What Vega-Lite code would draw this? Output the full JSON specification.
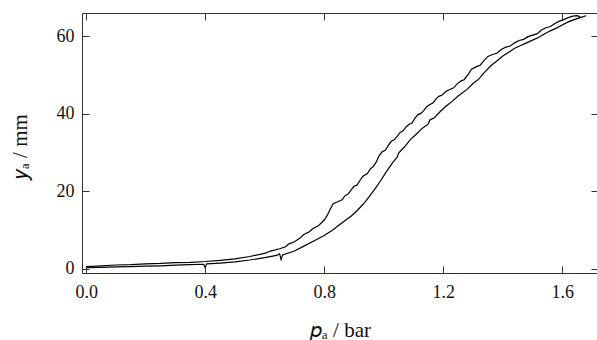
{
  "$schema": "https://vega.github.io/schema/vega-lite/v6.json",
  "width": 516,
  "height": 260,
  "autosize": {"type": "none"},
  "padding": {"left": 82, "top": 13, "right": 0, "bottom": 67},
  "background": "white",
  "config": {
    "view": {"stroke": "#333", "strokeWidth": 1},
    "font": "Liberation Serif"
  },
  "data": {"values": [
    {"branch": "upper", "p": 0.00, "y": 0.6},
    {"branch": "upper", "p": 0.05, "y": 0.8},
    {"branch": "upper", "p": 0.10, "y": 1.0},
    {"branch": "upper", "p": 0.15, "y": 1.1},
    {"branch": "upper", "p": 0.20, "y": 1.3},
    {"branch": "upper", "p": 0.25, "y": 1.4},
    {"branch": "upper", "p": 0.30, "y": 1.6},
    {"branch": "upper", "p": 0.35, "y": 1.7},
    {"branch": "upper", "p": 0.40, "y": 1.9},
    {"branch": "upper", "p": 0.45, "y": 2.2},
    {"branch": "upper", "p": 0.50, "y": 2.6},
    {"branch": "upper", "p": 0.55, "y": 3.2},
    {"branch": "upper", "p": 0.60, "y": 4.0},
    {"branch": "upper", "p": 0.62, "y": 4.6},
    {"branch": "upper", "p": 0.65, "y": 5.2},
    {"branch": "upper", "p": 0.67, "y": 5.7},
    {"branch": "upper", "p": 0.68, "y": 6.4},
    {"branch": "upper", "p": 0.70, "y": 7.0},
    {"branch": "upper", "p": 0.72, "y": 8.0},
    {"branch": "upper", "p": 0.73, "y": 8.8},
    {"branch": "upper", "p": 0.75, "y": 9.6},
    {"branch": "upper", "p": 0.76, "y": 10.3},
    {"branch": "upper", "p": 0.78, "y": 11.1},
    {"branch": "upper", "p": 0.80, "y": 12.6},
    {"branch": "upper", "p": 0.81, "y": 13.8},
    {"branch": "upper", "p": 0.82, "y": 15.4},
    {"branch": "upper", "p": 0.83, "y": 16.8},
    {"branch": "upper", "p": 0.845, "y": 17.3},
    {"branch": "upper", "p": 0.86, "y": 17.8},
    {"branch": "upper", "p": 0.87, "y": 18.9},
    {"branch": "upper", "p": 0.88, "y": 19.3},
    {"branch": "upper", "p": 0.89, "y": 20.3},
    {"branch": "upper", "p": 0.90, "y": 21.3},
    {"branch": "upper", "p": 0.91, "y": 21.6},
    {"branch": "upper", "p": 0.92, "y": 22.8},
    {"branch": "upper", "p": 0.93, "y": 23.9},
    {"branch": "upper", "p": 0.945, "y": 24.6},
    {"branch": "upper", "p": 0.955, "y": 25.8},
    {"branch": "upper", "p": 0.965, "y": 26.4},
    {"branch": "upper", "p": 0.975, "y": 27.6},
    {"branch": "upper", "p": 0.985, "y": 29.3},
    {"branch": "upper", "p": 0.995, "y": 30.2},
    {"branch": "upper", "p": 1.005, "y": 30.6},
    {"branch": "upper", "p": 1.015, "y": 31.8},
    {"branch": "upper", "p": 1.025, "y": 32.9},
    {"branch": "upper", "p": 1.035, "y": 33.3},
    {"branch": "upper", "p": 1.045, "y": 34.2},
    {"branch": "upper", "p": 1.055, "y": 35.2},
    {"branch": "upper", "p": 1.065, "y": 35.6},
    {"branch": "upper", "p": 1.075, "y": 36.6},
    {"branch": "upper", "p": 1.085, "y": 37.3},
    {"branch": "upper", "p": 1.095, "y": 37.6},
    {"branch": "upper", "p": 1.105, "y": 38.9},
    {"branch": "upper", "p": 1.115, "y": 39.8},
    {"branch": "upper", "p": 1.125, "y": 40.1},
    {"branch": "upper", "p": 1.135, "y": 40.9},
    {"branch": "upper", "p": 1.145, "y": 41.9},
    {"branch": "upper", "p": 1.155, "y": 42.4},
    {"branch": "upper", "p": 1.165, "y": 42.8},
    {"branch": "upper", "p": 1.175, "y": 43.8},
    {"branch": "upper", "p": 1.185, "y": 44.5},
    {"branch": "upper", "p": 1.195, "y": 44.8},
    {"branch": "upper", "p": 1.21, "y": 45.8},
    {"branch": "upper", "p": 1.22, "y": 46.2},
    {"branch": "upper", "p": 1.235, "y": 46.7},
    {"branch": "upper", "p": 1.245, "y": 47.6},
    {"branch": "upper", "p": 1.26, "y": 48.5},
    {"branch": "upper", "p": 1.27, "y": 48.8},
    {"branch": "upper", "p": 1.285, "y": 50.3},
    {"branch": "upper", "p": 1.295, "y": 51.5},
    {"branch": "upper", "p": 1.31, "y": 52.1},
    {"branch": "upper", "p": 1.325, "y": 52.6},
    {"branch": "upper", "p": 1.335, "y": 53.6},
    {"branch": "upper", "p": 1.35, "y": 54.8},
    {"branch": "upper", "p": 1.365, "y": 55.3},
    {"branch": "upper", "p": 1.38, "y": 55.6},
    {"branch": "upper", "p": 1.395, "y": 56.6},
    {"branch": "upper", "p": 1.41, "y": 57.2},
    {"branch": "upper", "p": 1.425, "y": 57.5},
    {"branch": "upper", "p": 1.44, "y": 58.3},
    {"branch": "upper", "p": 1.455, "y": 58.9},
    {"branch": "upper", "p": 1.47, "y": 59.2},
    {"branch": "upper", "p": 1.485, "y": 59.9},
    {"branch": "upper", "p": 1.50, "y": 60.3},
    {"branch": "upper", "p": 1.515, "y": 60.6},
    {"branch": "upper", "p": 1.53, "y": 61.6},
    {"branch": "upper", "p": 1.545, "y": 62.2},
    {"branch": "upper", "p": 1.56, "y": 62.5},
    {"branch": "upper", "p": 1.575, "y": 63.3},
    {"branch": "upper", "p": 1.59, "y": 63.9},
    {"branch": "upper", "p": 1.605, "y": 64.3},
    {"branch": "upper", "p": 1.62, "y": 64.8},
    {"branch": "upper", "p": 1.635, "y": 65.2},
    {"branch": "upper", "p": 1.65, "y": 65.3},
    {"branch": "upper", "p": 1.66, "y": 65.0},
    {"branch": "lower", "p": 0.00, "y": 0.3},
    {"branch": "lower", "p": 0.05, "y": 0.4},
    {"branch": "lower", "p": 0.10, "y": 0.5},
    {"branch": "lower", "p": 0.15, "y": 0.6},
    {"branch": "lower", "p": 0.20, "y": 0.7},
    {"branch": "lower", "p": 0.25, "y": 0.8},
    {"branch": "lower", "p": 0.30, "y": 0.95},
    {"branch": "lower", "p": 0.35, "y": 1.1},
    {"branch": "lower", "p": 0.395, "y": 1.2},
    {"branch": "lower", "p": 0.40, "y": 0.3},
    {"branch": "lower", "p": 0.405, "y": 1.3},
    {"branch": "lower", "p": 0.45, "y": 1.5},
    {"branch": "lower", "p": 0.50, "y": 1.8},
    {"branch": "lower", "p": 0.55, "y": 2.3},
    {"branch": "lower", "p": 0.60, "y": 2.9},
    {"branch": "lower", "p": 0.64, "y": 3.5},
    {"branch": "lower", "p": 0.65, "y": 3.9},
    {"branch": "lower", "p": 0.655, "y": 2.4},
    {"branch": "lower", "p": 0.66, "y": 3.6},
    {"branch": "lower", "p": 0.70, "y": 4.6},
    {"branch": "lower", "p": 0.73, "y": 5.8},
    {"branch": "lower", "p": 0.76, "y": 7.0},
    {"branch": "lower", "p": 0.80, "y": 8.6},
    {"branch": "lower", "p": 0.83, "y": 10.1},
    {"branch": "lower", "p": 0.85, "y": 11.3},
    {"branch": "lower", "p": 0.87, "y": 12.5},
    {"branch": "lower", "p": 0.89, "y": 13.6},
    {"branch": "lower", "p": 0.91, "y": 15.0},
    {"branch": "lower", "p": 0.93, "y": 16.6},
    {"branch": "lower", "p": 0.95, "y": 18.5},
    {"branch": "lower", "p": 0.97, "y": 20.6},
    {"branch": "lower", "p": 0.99, "y": 22.8},
    {"branch": "lower", "p": 1.01, "y": 25.2},
    {"branch": "lower", "p": 1.03, "y": 27.4},
    {"branch": "lower", "p": 1.045, "y": 28.8},
    {"branch": "lower", "p": 1.05, "y": 29.9},
    {"branch": "lower", "p": 1.07, "y": 31.5},
    {"branch": "lower", "p": 1.09, "y": 33.4},
    {"branch": "lower", "p": 1.11, "y": 34.8},
    {"branch": "lower", "p": 1.13, "y": 36.3},
    {"branch": "lower", "p": 1.15, "y": 37.4},
    {"branch": "lower", "p": 1.155, "y": 38.4},
    {"branch": "lower", "p": 1.17, "y": 39.0},
    {"branch": "lower", "p": 1.19, "y": 40.6},
    {"branch": "lower", "p": 1.21, "y": 42.0},
    {"branch": "lower", "p": 1.23, "y": 43.2},
    {"branch": "lower", "p": 1.25, "y": 44.6},
    {"branch": "lower", "p": 1.28, "y": 46.3},
    {"branch": "lower", "p": 1.30, "y": 47.8},
    {"branch": "lower", "p": 1.32, "y": 49.0},
    {"branch": "lower", "p": 1.34, "y": 50.8},
    {"branch": "lower", "p": 1.36, "y": 52.4},
    {"branch": "lower", "p": 1.38, "y": 53.6},
    {"branch": "lower", "p": 1.40, "y": 54.9},
    {"branch": "lower", "p": 1.42, "y": 55.9},
    {"branch": "lower", "p": 1.44, "y": 56.9},
    {"branch": "lower", "p": 1.46, "y": 57.6},
    {"branch": "lower", "p": 1.48, "y": 58.3},
    {"branch": "lower", "p": 1.50, "y": 59.0},
    {"branch": "lower", "p": 1.52, "y": 59.7},
    {"branch": "lower", "p": 1.54, "y": 60.6},
    {"branch": "lower", "p": 1.56, "y": 61.4},
    {"branch": "lower", "p": 1.58, "y": 62.1},
    {"branch": "lower", "p": 1.60, "y": 62.9},
    {"branch": "lower", "p": 1.62, "y": 63.7},
    {"branch": "lower", "p": 1.64, "y": 64.3},
    {"branch": "lower", "p": 1.66, "y": 64.8},
    {"branch": "lower", "p": 1.68, "y": 65.3}
  ]},
  "layer": [
    {
      "mark": {"type": "line", "color": "#000", "strokeWidth": 1.2, "clip": true},
      "encoding": {
        "x": {"field": "p", "type": "quantitative",
              "scale": {"domain": [-0.014, 1.72], "nice": false, "zero": false},
              "axis": {"orient": "bottom", "values": [0, 0.4, 0.8, 1.2, 1.6], "format": ".1f", "offset": -7,
                       "domain": false, "grid": false, "ticks": true, "tickSize": 7, "tickColor": "#333", "tickWidth": 1,
                       "labelFont": "Liberation Serif", "labelFontSize": 18, "labelColor": "#111",
                       "labelPadding": 10, "title": "𝑝ₐ / bar",
                       "titleFont": "Liberation Serif", "titleFontSize": 21, "titleFontWeight": "normal", "titleColor": "#111",
                       "titleBaseline": "alphabetic", "titleY": 70, "titleAnchor": "middle"}},
        "y": {"field": "y", "type": "quantitative",
              "scale": {"domain": [-1.06, 66], "nice": false, "zero": false},
              "axis": {"orient": "left", "values": [0, 20, 40, 60], "offset": -7,
                       "domain": false, "grid": false, "ticks": true, "tickSize": 7, "tickColor": "#333", "tickWidth": 1,
                       "labelFont": "Liberation Serif", "labelFontSize": 18, "labelColor": "#111",
                       "labelPadding": 8, "title": "𝑦ₐ / mm",
                       "titleFont": "Liberation Serif", "titleFontSize": 21, "titleFontWeight": "normal", "titleColor": "#111",
                       "titleBaseline": "alphabetic", "titleX": -63, "titleY": 133, "titleAngle": -90, "titleAlign": "center"}},
        "detail": {"field": "branch", "type": "nominal"},
        "order": {"field": "p", "type": "quantitative"}
      }
    },
    {
      "mark": {"type": "line", "strokeOpacity": 0},
      "encoding": {
        "x": {"field": "p", "type": "quantitative",
              "axis": {"orient": "top", "values": [0, 0.4, 0.8, 1.2, 1.6], "labels": false, "title": null, "offset": -7,
                       "domain": false, "grid": false, "ticks": true, "tickSize": 7, "tickColor": "#333", "tickWidth": 1}},
        "y": {"field": "y", "type": "quantitative",
              "axis": {"orient": "right", "values": [0, 20, 40, 60], "labels": false, "title": null, "offset": -7,
                       "domain": false, "grid": false, "ticks": true, "tickSize": 7, "tickColor": "#333", "tickWidth": 1}},
        "detail": {"field": "branch", "type": "nominal"}
      }
    }
  ],
  "resolve": {"axis": {"x": "independent", "y": "independent"}}
}
